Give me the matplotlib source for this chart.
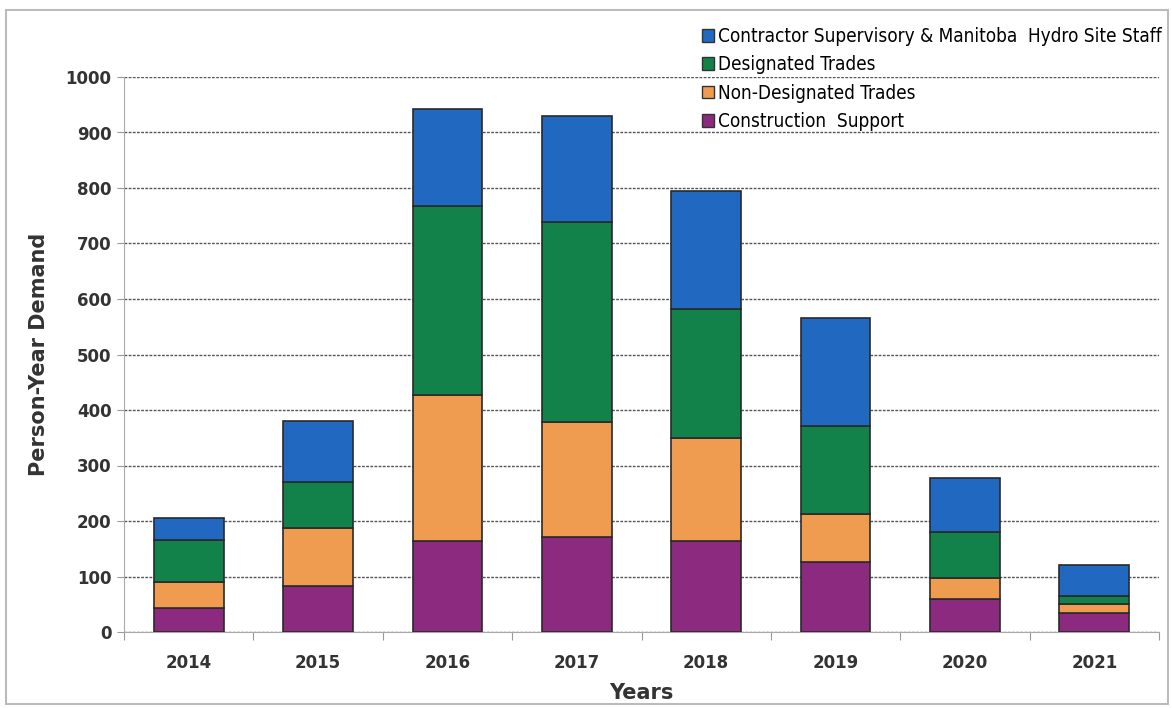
import matplotlib
matplotlib.use('Agg')
from matplotlib import pyplot as plt
from matplotlib.patches import Rectangle, Patch
from matplotlib import font_manager
import numpy as np

years = ['2014', '2015', '2016', '2017', '2018', '2019', '2020', '2021']
construction_support = [43, 83, 164, 171, 164, 126, 59, 34]
non_designated = [47, 104, 263, 207, 186, 87, 38, 16]
designated = [76, 83, 341, 361, 232, 158, 83, 15]
contractor_staff = [39, 110, 174, 191, 213, 195, 97, 56]

series = [
    ('Construction  Support', construction_support, '#8B2A7F'),
    ('Non-Designated Trades', non_designated, '#F09C50'),
    ('Designated Trades', designated, '#12824A'),
    ('Contractor Supervisory & Manitoba  Hydro Site Staff', contractor_staff, '#2169C0'),
]

# narrow face for the legend if one is around
names = {f.name for f in font_manager.fontManager.ttflist}
if 'DejaVu Sans Condensed' in names:
    leg_font = {'family': 'DejaVu Sans Condensed', 'size': 13.6}
else:
    leg_font = {'family': 'DejaVu Sans', 'stretch': 'condensed', 'size': 13.6}

fig = plt.figure(figsize=(11.72, 7.08), dpi=100)
ax = fig.add_axes([124 / 1172, 1 - 632 / 708, (1159 - 124) / 1172, (632 - 77) / 708])

x = np.arange(len(years))
bottom = np.zeros(len(years))
for name, vals, color in series:
    ax.bar(x, vals, 0.54, bottom=bottom, color=color, edgecolor='#2a2a2a',
           linewidth=1.2, zorder=3)
    bottom += np.array(vals)

ax.set_xlim(-0.5, len(years) - 0.5)
ax.set_ylim(0, 1000)
ax.set_yticks(range(0, 1001, 100))
ax.set_xticks(np.arange(-0.5, len(years)), minor=False)
ax.set_xticklabels([])
ax.set_xticks(x, minor=True)
ax.set_xticklabels(years, minor=True)
ax.tick_params(axis='x', which='minor', length=0, pad=16, labelsize=12)
ax.tick_params(axis='x', which='major', length=6, color='#999999')
ax.tick_params(axis='y', length=5, color='#999999', labelsize=12, pad=4)
for lbl in ax.get_yticklabels() + ax.get_xticklabels(minor=True):
    lbl.set_fontweight('bold')
    lbl.set_color('#333333')

ax.yaxis.grid(True, linestyle=(0, (2, 1)), color='#555555', linewidth=1.0, zorder=0)
for s in ['top', 'right']:
    ax.spines[s].set_visible(False)
ax.spines['left'].set_color('#aaaaaa')
ax.spines['bottom'].set_color('#aaaaaa')

ax.set_ylabel('Person-Year Demand', fontsize=15, fontweight='bold', color='#333333', labelpad=12)
ax.set_xlabel('Years', fontsize=15, fontweight='bold', color='#333333', labelpad=8)

handles = [Patch(facecolor=c, edgecolor='#333333', label=n) for n, _, c in reversed(series)]
leg = fig.legend(handles=handles, loc='upper left', bbox_to_anchor=(700 / 1172, 1 - 25 / 708),
                 frameon=False, handlelength=0.65, handleheight=0.65, handletextpad=0.2,
                 labelspacing=0.5, borderaxespad=0, borderpad=0.1, prop=leg_font)

fig.patches.append(Rectangle((6 / 1172, 4 / 708), 1162 / 1172, 694 / 708,
                             transform=fig.transFigure, fill=False,
                             edgecolor='#bbbbbb', linewidth=1.5))

fig.savefig('out.png', dpi=100)
